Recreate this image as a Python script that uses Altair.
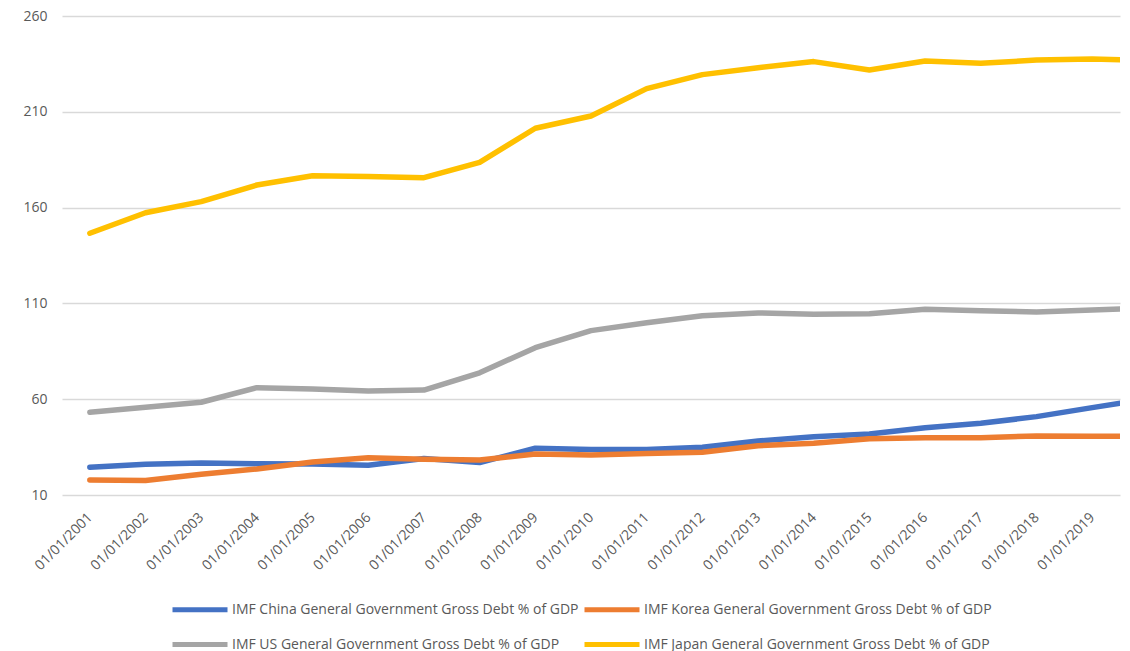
import altair as alt
import pandas as pd

years = list(range(2001, 2021))
china = [24.5, 26.0, 26.7, 26.3, 26.2, 25.5, 29.1, 26.9, 34.4, 33.8, 33.7, 34.9, 38.2, 40.4, 41.8, 45.1, 47.4, 50.9, 55.6, 60.2]
korea = [17.8, 17.6, 20.8, 23.6, 27.2, 29.5, 28.6, 28.3, 31.4, 30.9, 31.6, 32.3, 35.7, 37.0, 39.4, 39.9, 39.9, 40.8, 40.6, 40.6]
us = [53.2, 55.8, 58.4, 66.0, 65.3, 64.3, 64.8, 73.8, 86.9, 95.8, 99.9, 103.6, 105.0, 104.3, 104.6, 106.9, 106.2, 105.5, 106.6, 107.6]
japan = [146.6, 157.3, 163.1, 171.8, 176.6, 176.2, 175.6, 183.6, 201.4, 207.8, 222.1, 229.4, 233.0, 236.2, 231.8, 236.5, 235.3, 237.0, 237.6, 236.8]

series_names = [
    "IMF China General Government Gross Debt % of GDP",
    "IMF Korea General Government Gross Debt % of GDP",
    "IMF US General Government Gross Debt % of GDP",
    "IMF Japan General Government Gross Debt % of GDP",
]
colors = ["#4472C4", "#ED7D31", "#A5A5A5", "#FFC000"]
y_ticks = [10, 60, 110, 160, 210, 260]
x_ticks = list(range(2001, 2020))

rows = []
for name, vals in zip(series_names, [china, korea, us, japan]):
    for yr, v in zip(years, vals):
        rows.append({"year": yr, "value": v, "series": name})
df = pd.DataFrame(rows)

FONT = "Open Sans"
LABEL_COLOR = "#595959"

chart = (
    alt.Chart(df)
    .mark_line(strokeWidth=5.5, strokeCap="round", strokeJoin="round", clip=True)
    .encode(
        x=alt.X(
            "year:Q",
            scale=alt.Scale(domain=[2000.5, 2019.5], nice=False, zero=False),
            axis=alt.Axis(
                values=x_ticks,
                labelExpr="'01/01/' + datum.value",
                labelAngle=-45,
                labelAlign="right",
                labelBaseline="middle",
                labelPadding=20,
                grid=False,
                ticks=False,
                domain=False,
                title=None,
                labelFont=FONT,
                labelFontSize=14,
                labelColor=LABEL_COLOR,
                labelOverlap=False,
            ),
        ),
        y=alt.Y(
            "value:Q",
            scale=alt.Scale(domain=[10, 260], nice=False, zero=False),
            axis=alt.Axis(
                values=y_ticks,
                grid=True,
                gridColor="#D9D9D9",
                gridWidth=1.5,
                ticks=False,
                domain=False,
                title=None,
                labelPadding=15,
                labelFont=FONT,
                labelFontSize=14,
                labelColor=LABEL_COLOR,
            ),
        ),
        color=alt.Color(
            "series:N",
            scale=alt.Scale(domain=series_names, range=colors),
            legend=alt.Legend(
                title=None,
                orient="none",
                direction="horizontal",
                legendX=108,
                legendY=586,
                columns=2,
                symbolType="M-1,0H10",
                symbolSize=100,
                symbolStrokeWidth=5,
                labelFont=FONT,
                labelFontSize=14,
                labelColor=LABEL_COLOR,
                labelLimit=500,
                labelOffset=47,
                columnPadding=-5,
                rowPadding=14,
                symbolOffset=0,
                padding=0,
            ),
        ),
        order=alt.Order("year:Q"),
    )
    .properties(
        width=1058,
        height=479,
        background="white",
        autosize=alt.AutoSizeParams(type="none"),
        padding={"left": 62, "top": 16, "right": 10, "bottom": 156},
    )
    .configure_view(stroke=None, strokeWidth=0)
)

chart.save("out.html", embed_options={"renderer": "svg", "actions": False})
